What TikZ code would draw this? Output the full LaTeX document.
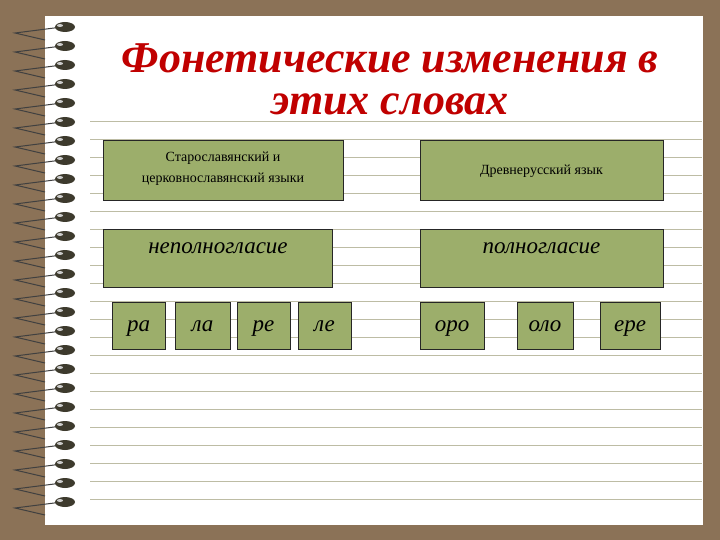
\documentclass[tikz,border=0pt]{standalone}
\usepackage{fontspec}
\setmainfont{Liberation Serif}
\begin{document}
\begin{tikzpicture}[x=1pt,y=-1pt,
 box/.style={draw=black!85,line width=0.8pt,fill=boxg,inner sep=0pt},
 lbl/.style={font=\itshape\fontsize{23}{26}\selectfont,text height=12pt,text depth=2pt}]
\definecolor{bg}{HTML}{8B7257}
\definecolor{boxg}{HTML}{9CAE6B}
\definecolor{ruled}{HTML}{BDBCA4}
\definecolor{ttl}{HTML}{C00000}
\fill[bg] (0,0) rectangle (720,540);
\useasboundingbox (0,0) rectangle (720,540);
\fill[white] (45,16) rectangle (703,525);
\foreach \k in {0,...,21} \draw[ruled,line width=0.8pt] (90,121+18*\k) -- (702,121+18*\k);
\foreach \k in {0,...,25}{
  \draw[black!75,line width=1pt] (62,27+19*\k) -- (15,33+19*\k) -- (45,40+19*\k);
  \fill[black!75!olive] (65,27+19*\k) ellipse (10 and 5);
  \fill[white!60!gray] (60,25.5+19*\k) ellipse (3 and 1.5);
}
\node[text=ttl,font=\bfseries\itshape\fontsize{44}{46}\selectfont] (t1) at (390,58) {Фонетические изменения в};
\node[text=ttl,font=\bfseries\itshape\fontsize{44}{46}\selectfont] (t2) at (390,104) {этих словах};
\node[box,minimum width=240,minimum height=60,align=center,font=\fontsize{14}{21}\selectfont] (a) at (223,170) {Старославянский и\\церковнославянский языки\\[-15pt]};
\node[box,minimum width=243,minimum height=60,font=\fontsize{14}{17}\selectfont,text depth=-8pt] (b) at (541.5,170) {Древнерусский язык};
\node[box,minimum width=229,minimum height=58,lbl] (c) at (218,258) {\raisebox{10pt}{неполногласие}};
\node[box,minimum width=243,minimum height=58,lbl] (d) at (541.5,258) {\raisebox{10pt}{полногласие}};
\node[box,minimum width=53,minimum height=47,lbl] (e1) at (138.5,326) {ра};
\node[box,minimum width=55,minimum height=47,lbl] (e2) at (202.5,326) {ла};
\node[box,minimum width=53,minimum height=47,lbl] (e3) at (263.5,326) {ре};
\node[box,minimum width=53,minimum height=47,lbl] (e4) at (324.5,326) {ле};
\node[box,minimum width=64,minimum height=47,lbl] (f1) at (452,326) {оро};
\node[box,minimum width=56,minimum height=47,lbl] (f2) at (545,326) {оло};
\node[box,minimum width=60,minimum height=47,lbl] (f3) at (630,326) {ере};
\end{tikzpicture}
\end{document}
